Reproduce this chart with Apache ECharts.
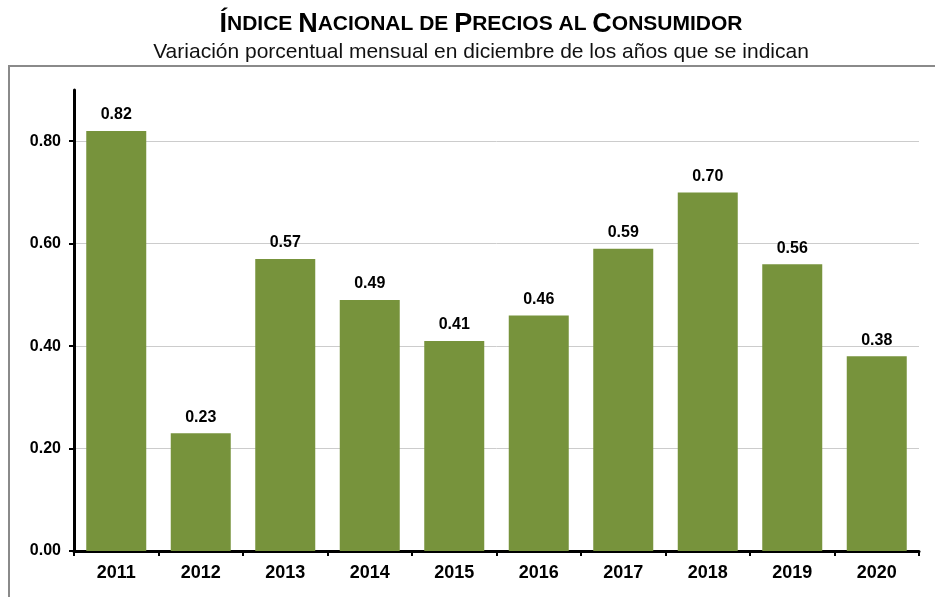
<!DOCTYPE html>
<html>
<head>
<meta charset="utf-8">
<style>
  html, body { margin: 0; padding: 0; background: #fff; }
  #chart { width: 935px; height: 597px; }
</style>
<script src="https://cdn.jsdelivr.net/npm/echarts@6/dist/echarts.min.js"></script>
</head>
<body>
<div id="chart"></div>
<script>
// datos del gráfico
const years = ['2011', '2012', '2013', '2014', '2015', '2016', '2017', '2018', '2019', '2020'];
const values = [0.82, 0.23, 0.57, 0.49, 0.41, 0.46, 0.59, 0.70, 0.56, 0.38];
const yTicks = [0, 0.2, 0.4, 0.6, 0.8];

const chart = echarts.init(document.getElementById('chart'));
const font = 'Arial, "Liberation Sans", sans-serif';

const option = {
    animation: false,
    title: {
        text: '{b|Í}{s|NDICE }{b|N}{s|ACIONAL DE }{b|P}{s|RECIOS AL }{b|C}{s|ONSUMIDOR}',
        subtext: 'Variación porcentual mensual en diciembre de los años que se indican',
        left: 476,
        textAlign: 'center',
        top: 6,
        itemGap: 4,
        textStyle: {
            rich: {
                b: { fontSize: 27, fontWeight: 'bold', color: '#000', fontFamily: font },
                s: { fontSize: 21, fontWeight: 'bold', color: '#000', fontFamily: font }
            }
        },
        subtextStyle: {
            fontSize: 21,
            color: '#111',
            fontFamily: font
        }
    },
    graphic: [{
        type: 'rect',
        shape: { x: 9, y: 66, width: 960, height: 560 },
        style: { fill: 'none', stroke: '#8a8a8a', lineWidth: 2 },
        silent: true
    }],
    grid: {
        left: 74,
        right: 16,
        top: 90,
        bottom: 46
    },
    xAxis: {
        type: 'category',
        data: years,
        axisLine: { lineStyle: { color: '#000', width: 3 } },
        axisTick: { show: true, length: 5, lineStyle: { color: '#000', width: 2 } },
        axisLabel: {
            color: '#000',
            fontWeight: 'bold',
            fontSize: 18,
            fontFamily: font,
            margin: 13
        }
    },
    yAxis: {
        type: 'value',
        min: 0,
        max: 0.9,
        interval: 0.2,
        axisLine: { show: true, lineStyle: { color: '#000', width: 3 } },
        axisTick: { show: true, length: 5, customValues: yTicks, lineStyle: { color: '#000', width: 2 } },
        axisLabel: {
            customValues: yTicks,
            color: '#000',
            fontWeight: 'bold',
            fontSize: 16,
            fontFamily: font,
            margin: 13,
            formatter: v => v.toFixed(2)
        },
        splitLine: {
            show: true,
            lineStyle: { color: '#cccccc', width: 1 }
        }
    },
    series: [{
        type: 'bar',
        data: values,
        barWidth: 60,
        itemStyle: { color: '#77933C' },
        label: {
            show: true,
            position: 'top',
            distance: 8,
            color: '#000',
            fontWeight: 'bold',
            fontSize: 16,
            fontFamily: font,
            formatter: p => p.value.toFixed(2)
        }
    }]
};

chart.setOption(option);
</script>
</body>
</html>
